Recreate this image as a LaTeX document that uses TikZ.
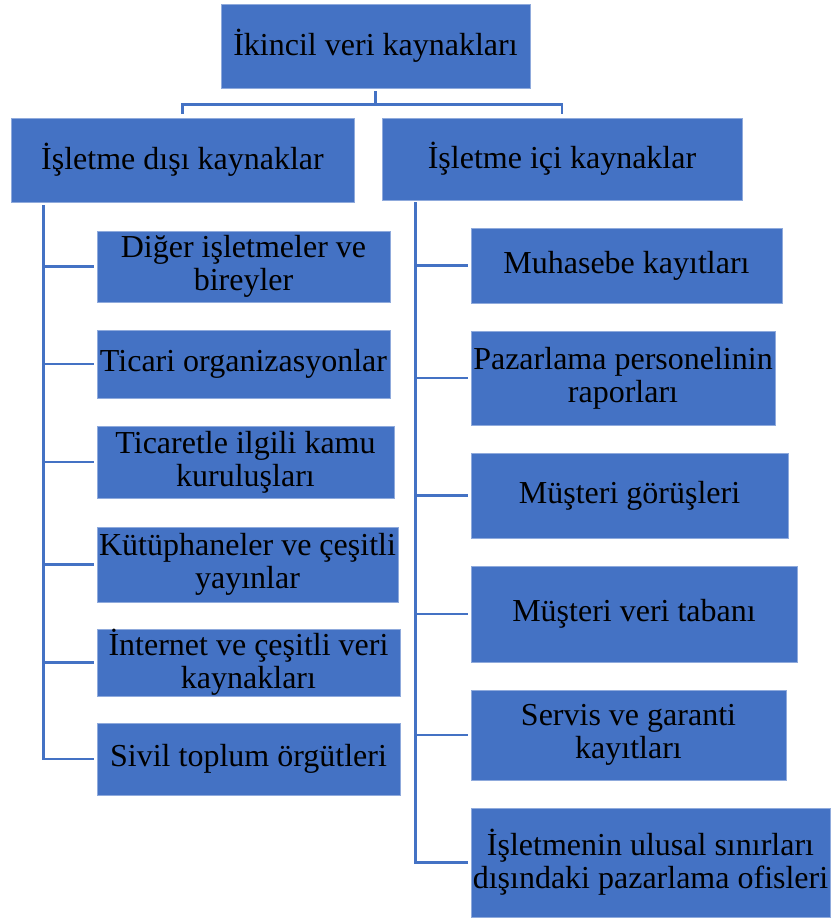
\documentclass[tikz,border=0pt]{standalone}
\usepackage{fontspec}
\setmainfont{Liberation Serif}
\definecolor{boxblue}{RGB}{68,114,196}
\definecolor{boxedge}{RGB}{143,170,220}
\definecolor{linkblue}{RGB}{68,114,196}
\begin{document}
\begin{tikzpicture}[x=1pt,y=-1pt,
  box/.style={rectangle, fill=boxblue, draw=boxedge, line width=0.8pt, inner sep=0pt,
    align=center, font=\fontsize{32}{33}\selectfont, text=black},
  conn/.style={draw=linkblue, line width=2.6pt}]
\useasboundingbox (0,0) rectangle (835,921);
\node[box, minimum width=309pt, minimum height=84pt] (top) at (375.5,46) {İkincil veri kaynakları};
\node[box, minimum width=343pt, minimum height=84pt] (L) at (182.5,160) {İşletme dışı kaynaklar};
\node[box, minimum width=360pt, minimum height=82pt] (R) at (562,159) {İşletme içi kaynaklar};
% left children
\node[box, minimum width=293pt, minimum height=71pt] (L1) at (243.5,266.5) {Diğer işletmeler ve\\bireyler};
\node[box, minimum width=293pt, minimum height=68pt] (L2) at (243.5,364) {Ticari organizasyonlar};
\node[box, minimum width=297pt, minimum height=72pt] (L3) at (245.5,462) {Ticaretle ilgili kamu\\kuruluşları};
\node[box, minimum width=301pt, minimum height=75pt] (L4) at (247.5,564.5) {Kütüphaneler ve çeşitli\\yayınlar};
\node[box, minimum width=303pt, minimum height=67pt] (L5) at (248.5,662.5) {İnternet ve çeşitli veri\\kaynakları};
\node[box, minimum width=303pt, minimum height=72pt] (L6) at (248.5,759) {Sivil toplum örgütleri};
% right children
\node[box, minimum width=311pt, minimum height=75pt] (R1) at (626.5,265.5) {Muhasebe kayıtları};
\node[box, minimum width=304pt, minimum height=94pt] (R2) at (623,378) {Pazarlama personelinin\\raporları};
\node[box, minimum width=317pt, minimum height=85pt] (R3) at (629.5,495.5) {Müşteri görüşleri};
\node[box, minimum width=326pt, minimum height=96pt] (R4) at (634,614) {Müşteri veri tabanı};
\node[box, minimum width=315pt, minimum height=90pt] (R5) at (628.5,735) {Servis ve garanti\\kayıtları};
\node[box, minimum width=359pt, minimum height=109pt] (R6) at (650.5,862.5) {İşletmenin ulusal sınırları\\dışındaki pazarlama ofisleri};
% top connectors
\coordinate (J) at ([yshift=-16pt]top.south);
\draw[conn, shorten <=3pt, shorten >=4pt] (top.south) -- (J) -| (L.north);
\draw[conn, shorten >=4pt] (J) -| (R.north);
% trunks
\coordinate (Lt) at ([xshift=33pt,yshift=-3pt]L.south west);
\coordinate (Rt) at ([xshift=34pt,yshift=-2pt]R.south west);
\draw[conn, shorten >=3pt] (Lt) |- (L6.west);
\foreach \n in {L1,L2,L3,L4,L5} \draw[conn, shorten >=3pt] (Lt |- \n.west) -- (\n.west);
\draw[conn, shorten >=3pt] (Rt) |- (R6.west);
\foreach \n in {R1,R2,R3,R4,R5} \draw[conn, shorten >=3pt] (Rt |- \n.west) -- (\n.west);
\end{tikzpicture}
\end{document}
